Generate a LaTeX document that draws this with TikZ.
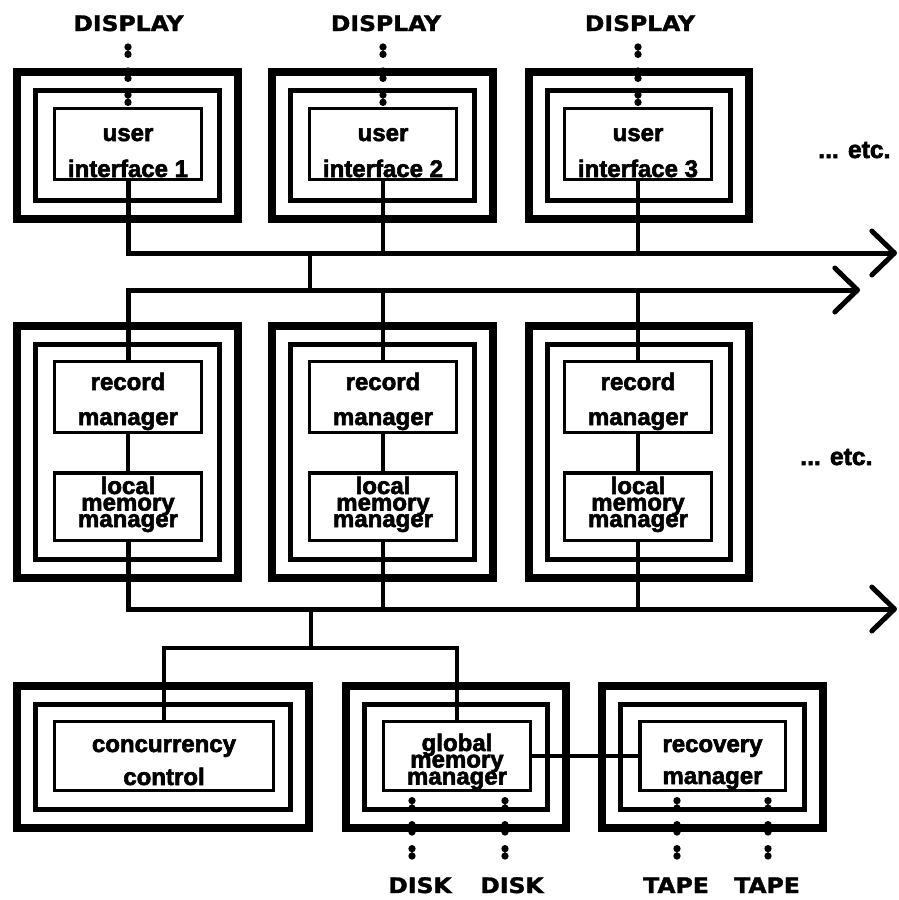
\documentclass[tikz,border=0pt]{standalone}
\usepackage{fontspec}
\setmainfont{Liberation Sans}[BoldFeatures={FakeBold=2.5}]
\newfontfamily\capsfont{DejaVu Sans}[BoldFeatures={FakeBold=1.5}]
\usetikzlibrary{arrows.meta}

% triple-walled module: thick outer wall and thinner middle wall, given outer extents L T R B
\newcommand\modframe[4]{%
  \draw[outerframe] (#1+4,#2+4) rectangle (#3-4,#4-4);
  \draw[midframe] (#1+22.5,#2+22.5) rectangle (#3-22.5,#4-22.5);}

\begin{document}
\begin{tikzpicture}[x=0.75pt,y=-0.75pt,
  outerframe/.style={line width=6pt},
  midframe/.style={line width=3.75pt},
  ibox/.style={draw, line width=2.6pt, inner sep=0pt,
    minimum width=109.9pt, minimum height=52.9pt},
  txt/.style={font=\fontsize{18}{18}\selectfont\bfseries, inner sep=0pt, anchor=base},
  caps/.style={font=\capsfont\bfseries\fontsize{16}{16}\selectfont, inner sep=0pt, anchor=base},
  etc/.style={font=\fontsize{18.5}{18.5}\selectfont\bfseries, inner sep=0pt, anchor=base west},
  wire/.style={line width=3.4pt},
  bus/.style={line width=3.75pt, -{Straight Barb[length=17pt,width=33pt,round]}},
  devdots/.style={line width=5.5pt, line cap=round,
    dash pattern=on 0pt off 5.5pt on 0pt off 12.5pt},
]
\useasboundingbox (0,0) rectangle (899,900);

% ---------- user interfaces ----------
\modframe{13}{68}{242}{223}
\modframe{268}{68}{497}{223}
\modframe{525}{68}{753}{223}
\node[ibox] (ui1) at (128,144) {};
\node[ibox] (ui2) at (383,144) {};
\node[ibox] (ui3) at (638,144) {};
\node[txt] (ui1a) at (128,141) {user};
\node[txt] (ui1b) at (128,177) {interface 1};
\node[txt] (ui2a) at (383,141) {user};
\node[txt] (ui2b) at (383,177) {interface 2};
\node[txt] (ui3a) at (638,141) {user};
\node[txt] (ui3b) at (638,177) {interface 3};

\node[caps] (dsp1) at (128.5,31) {\scalebox{1.1}[1]{DISPLAY}};
\node[caps] (dsp2) at (386,31) {\scalebox{1.1}[1]{DISPLAY}};
\node[caps] (dsp3) at (640,31) {\scalebox{1.1}[1]{DISPLAY}};
\coordinate (dp1) at (128,47);
\coordinate (dp2) at (383,47);
\coordinate (dp3) at (638,47);
\draw[devdots] (dp1) -- (ui1.north);
\draw[devdots] (dp2) -- (ui2.north);
\draw[devdots] (dp3) -- (ui3.north);

\node[etc] (etc1) at (818,158) {... etc.};

% ---------- record / local memory managers ----------
\modframe{13}{322}{242}{582}
\modframe{268}{322}{497}{582}
\modframe{525}{322}{753}{582}
\node[ibox] (rm1) at (128,397) {};
\node[ibox] (rm2) at (383,397) {};
\node[ibox] (rm3) at (638,397) {};
\node[ibox, minimum height=50.6pt] (lm1) at (128,506.5) {};
\node[ibox, minimum height=50.6pt] (lm2) at (383,506.5) {};
\node[ibox, minimum height=50.6pt] (lm3) at (638,506.5) {};
\foreach \c/\x in {1/128,2/383,3/638}{
  \node[txt] (rm\c a) at (\x,390) {record};
  \node[txt] (rm\c b) at (\x,425) {manager};
  \node[txt] (lm\c a) at (\x,494) {local};
  \node[txt] (lm\c b) at (\x,510.5) {memory};
  \node[txt] (lm\c c) at (\x,527) {manager};
}
\draw[wire] (rm1) -- (lm1);
\draw[wire] (rm2) -- (lm2);
\draw[wire] (rm3) -- (lm3);

\node[etc] (etc2) at (800,465) {... etc.};

% ---------- global modules ----------
\modframe{13}{682}{313}{832}
\modframe{342}{682}{570}{832}
\modframe{598}{682}{827}{832}
\node[ibox, minimum width=163.9pt, minimum height=51.4pt] (cc) at (164,756) {};
\node[ibox, minimum height=51.4pt] (gm) at (457,756) {};
\node[ibox, minimum width=109.1pt, minimum height=51.4pt] (rc) at (712.5,756) {};
\node[txt] (cca) at (164,752) {concurrency};
\node[txt] (ccb) at (164,785) {control};
\node[txt] (gma) at (457,751) {global};
\node[txt] (gmb) at (457,767.5) {memory};
\node[txt] (gmc) at (457,784.5) {manager};
\node[txt] (rca) at (712.5,752) {recovery};
\node[txt] (rcb) at (712.5,784) {manager};

\draw[wire] (gm) -- (rc);

% devices
\coordinate (dk1) at (412,856);
\coordinate (dk2) at (505,856);
\coordinate (tp1) at (677,856);
\coordinate (tp2) at (768,856);
\draw[devdots] (dk1) -- (dk1 |- gm.south);
\draw[devdots] (dk2) -- (dk2 |- gm.south);
\draw[devdots] (tp1) -- (tp1 |- rc.south);
\draw[devdots] (tp2) -- (tp2 |- rc.south);
\node[caps] (disk1) at (420,893) {\scalebox{1.1}[1]{DISK}};
\node[caps] (disk2) at (512,893) {\scalebox{1.1}[1]{DISK}};
\node[caps] (tape1) at (676,893) {\scalebox{1.1}[1]{TAPE}};
\node[caps] (tape2) at (767,893) {\scalebox{1.1}[1]{TAPE}};

% ---------- buses ----------
\coordinate (tipA) at (897,253);
\coordinate (tipB) at (860,290);
\coordinate (tipC) at (897,609);
\coordinate (jA) at (310,253);
\coordinate (jB) at (310,290);
\coordinate (jC) at (311,609);
\coordinate (jD) at (311,648);

\draw[bus] (ui1.south) |- (tipA);
\draw[wire] (ui2.south) -- (ui2.south |- tipA);
\draw[wire] (ui3.south) -- (ui3.south |- tipA);
\draw[wire] (jA) -- (jB);

\draw[bus] (rm1.north) |- (tipB);
\draw[wire] (rm2.north) -- (rm2.north |- tipB);
\draw[wire] (rm3.north) -- (rm3.north |- tipB);

\draw[bus] (lm1.south) |- (tipC);
\draw[wire] (lm2.south) -- (lm2.south |- tipC);
\draw[wire] (lm3.south) -- (lm3.south |- tipC);
\draw[wire] (jC) -- (jD);

\draw[wire] (cc.north) |- (jD) -| (gm.north);
\end{tikzpicture}
\end{document}
